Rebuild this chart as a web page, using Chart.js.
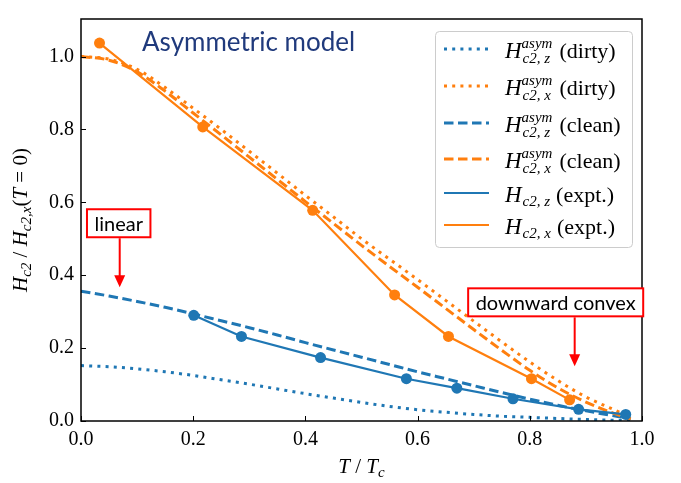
<!DOCTYPE html>
<html>
<head>
<meta charset="utf-8">
<script src="https://cdn.jsdelivr.net/npm/chart.js@4.4.1/dist/chart.umd.min.js"></script>
<style>
  html, body { margin: 0; padding: 0; background: #fff; }
</style>
</head>
<body>
<canvas id="hc2" width="681" height="483"></canvas>
<script>
// reduced temperature grid for the model curves
const TEMP = [0, 0.05, 0.1, 0.15, 0.2, 0.25, 0.3, 0.35, 0.4, 0.45, 0.5,
  0.55, 0.6, 0.65, 0.7, 0.75, 0.8, 0.85, 0.9, 0.95, 0.98];

const HZ_DIRTY = [0.152, 0.149, 0.143, 0.135, 0.125, 0.113, 0.101, 0.088, 0.075, 0.063, 0.051,
  0.040, 0.031, 0.024, 0.018, 0.013, 0.010, 0.007, 0.004, 0.002, 0.001];
const HX_DIRTY = [1.000, 0.993, 0.965, 0.915, 0.858, 0.800, 0.740, 0.680, 0.619, 0.560, 0.500,
  0.444, 0.388, 0.331, 0.274, 0.217, 0.162, 0.111, 0.066, 0.031, 0.010];
const HX_CLEAN = [1.000, 0.990, 0.958, 0.905, 0.845, 0.785, 0.724, 0.663, 0.602, 0.542, 0.482,
  0.424, 0.367, 0.309, 0.251, 0.194, 0.139, 0.091, 0.052, 0.021, 0.006];
const HZ_CLEAN = [0.356, 0.343, 0.328, 0.312, 0.294, 0.275, 0.256, 0.236, 0.215, 0.195, 0.175,
  0.155, 0.135, 0.116, 0.097, 0.078, 0.060, 0.043, 0.028, 0.014, 0.006];

// measured points
const EXPT_Z_T = [0.201, 0.286, 0.427, 0.580, 0.670, 0.770, 0.887, 0.971];
const EXPT_Z_H = [0.290, 0.232, 0.174, 0.116, 0.090, 0.061, 0.032, 0.018];
const EXPT_X_T = [0.033, 0.217, 0.413, 0.559, 0.655, 0.803, 0.871];
const EXPT_X_H = [1.037, 0.807, 0.578, 0.346, 0.232, 0.116, 0.058];

const X_TICKS = [0, 0.2, 0.4, 0.6, 0.8, 1.0];
const Y_TICKS = [0, 0.2, 0.4, 0.6, 0.8, 1.0];

const BLUE = "#1f77b4";
const ORANGE = "#ff7f0e";
const SERIF = '"Liberation Serif", "Times New Roman", serif';
const SANS = 'Lato, "Open Sans", sans-serif';

const DOTTED = [3, 5.2];
const DASHED = [9.5, 4.5];

const pts = (xs, ys) => xs.map((x, i) => ({ x: x, y: ys[i] }));

// legend rows, drawn by hand because of the sub/superscripts
const LEGEND = [
  { color: BLUE, dash: DOTTED, width: 3, sub: "c2, z", sup: "asym", tail: "(dirty)" },
  { color: ORANGE, dash: DOTTED, width: 3, sub: "c2, x", sup: "asym", tail: "(dirty)" },
  { color: BLUE, dash: DASHED, width: 3, sub: "c2, z", sup: "asym", tail: "(clean)" },
  { color: ORANGE, dash: DASHED, width: 3, sub: "c2, x", sup: "asym", tail: "(clean)" },
  { color: BLUE, dash: [], width: 2.2, sub: "c2, z", sup: null, tail: "(expt.)" },
  { color: ORANGE, dash: [], width: 2.2, sub: "c2, x", sup: null, tail: "(expt.)" },
];

// red call-outs, anchored to the arrow tip in data units
const NOTES = [
  { text: "linear", t: 0.069, h: 0.367, shift: -1 },
  { text: "downward convex", t: 0.88, h: 0.15, shift: -19 },
];

function drawParts(ctx, parts, x, y) {
  // parts: [text, font, baseline offset]
  let cx = x;
  parts.forEach(p => {
    ctx.font = p[1];
    ctx.fillText(p[0], cx, y + (p[2] || 0));
    cx += ctx.measureText(p[0]).width;
  });
  return cx;
}

function partsWidth(ctx, parts) {
  return parts.reduce((w, p) => {
    ctx.font = p[1];
    return w + ctx.measureText(p[0]).width;
  }, 0);
}

function drawLegend(ctx, a) {
  const bx = a.right - 207, by = a.top + 12, bw = 197, bh = 216;
  ctx.save();
  ctx.beginPath();
  ctx.roundRect(bx + 0.5, by + 0.5, bw, bh, 4);
  ctx.fillStyle = "rgba(255,255,255,0.85)";
  ctx.fill();
  ctx.strokeStyle = "#cccccc";
  ctx.lineWidth = 1;
  ctx.stroke();

  const rows = [by + 18, by + 55, by + 92, by + 128, by + 162, by + 194];
  LEGEND.forEach((e, i) => {
    const y = rows[i];
    ctx.beginPath();
    ctx.setLineDash(e.dash);
    ctx.strokeStyle = e.color;
    ctx.lineWidth = e.width;
    ctx.moveTo(bx + 9, y);
    ctx.lineTo(bx + 54, y);
    ctx.stroke();
    ctx.setLineDash([]);

    ctx.fillStyle = "#000";
    ctx.textAlign = "left";
    ctx.textBaseline = "alphabetic";
    let x = drawParts(ctx, [["H", "italic 23px " + SERIF]], bx + 70, y + 9);
    ctx.font = "italic 15px " + SERIF;
    const wSub = ctx.measureText(e.sub).width;
    if (e.sup) {
      const wSup = ctx.measureText(e.sup).width;
      ctx.fillText(e.sup, x, y - 1);
      ctx.fillText(e.sub, x + 1, y + 14);
      x += Math.max(wSup, wSub) + 7;
    } else {
      ctx.fillText(e.sub, x + 1, y + 13);
      x += wSub + 7;
    }
    ctx.font = "22px " + SERIF;
    ctx.fillText(e.tail, x, y + 9);
  });
  ctx.restore();
}

function drawNotes(ctx, sx, sy) {
  ctx.save();
  ctx.font = "20px " + SANS;
  NOTES.forEach(n => {
    const tx = sx.getPixelForValue(n.t);
    const ty = sy.getPixelForValue(n.h);
    const w = ctx.measureText(n.text).width + 15;
    const h = 28;
    const cx = tx + n.shift;
    const top = ty - 50 - h;

    ctx.fillStyle = "#fff";
    ctx.fillRect(cx - w / 2, top, w, h);
    ctx.strokeStyle = "#ff0000";
    ctx.lineWidth = 2;
    ctx.strokeRect(cx - w / 2, top, w, h);
    ctx.fillStyle = "#000";
    ctx.textAlign = "center";
    ctx.textBaseline = "middle";
    ctx.fillText(n.text, cx, top + h / 2 + 1);

    // arrow
    ctx.beginPath();
    ctx.moveTo(tx, top + h + 1);
    ctx.lineTo(tx, ty - 10);
    ctx.stroke();
    ctx.beginPath();
    ctx.moveTo(tx - 5.5, ty - 12);
    ctx.lineTo(tx + 5.5, ty - 12);
    ctx.lineTo(tx, ty);
    ctx.closePath();
    ctx.fillStyle = "#ff0000";
    ctx.fill();
  });
  ctx.restore();
}

const decor = {
  id: "decor",
  afterDatasetsDraw(chart) {
    const { ctx, chartArea: a, scales } = chart;
    const sx = scales.x, sy = scales.y;
    ctx.save();

    // inward ticks
    ctx.strokeStyle = "#000";
    ctx.lineWidth = 1;
    ctx.beginPath();
    X_TICKS.forEach(v => {
      const p = Math.round(sx.getPixelForValue(v)) + 0.5;
      ctx.moveTo(p, a.bottom);
      ctx.lineTo(p, a.bottom - 5);
    });
    Y_TICKS.forEach(v => {
      const p = Math.round(sy.getPixelForValue(v)) + 0.5;
      ctx.moveTo(a.left, p);
      ctx.lineTo(a.left + 5, p);
    });
    ctx.stroke();

    // frame
    ctx.lineWidth = 1.5;
    ctx.strokeRect(a.left, a.top, a.right - a.left, a.bottom - a.top);

    // panel title
    ctx.fillStyle = "#203a7c";
    ctx.font = "26px " + SANS;
    ctx.textAlign = "left";
    ctx.textBaseline = "alphabetic";
    ctx.fillText("Asymmetric model", a.left + 61, a.top + 32);

    // axis titles
    ctx.fillStyle = "#000";
    const xParts = [
      ["T", "italic 21px " + SERIF],
      [" / ", "21px " + SERIF],
      ["T", "italic 21px " + SERIF],
      ["c", "italic 15px " + SERIF, 4],
    ];
    const xw = partsWidth(ctx, xParts);
    drawParts(ctx, xParts, (a.left + a.right) / 2 - xw / 2, a.bottom + 52);

    const yParts = [
      ["H", "italic 21px " + SERIF],
      ["c2", "italic 15px " + SERIF, 4],
      [" / ", "21px " + SERIF],
      ["H", "italic 21px " + SERIF],
      ["c2,x", "italic 15px " + SERIF, 4],
      ["(", "21px " + SERIF],
      ["T", "italic 21px " + SERIF],
      [" = 0)", "21px " + SERIF],
    ];
    const yw = partsWidth(ctx, yParts);
    ctx.save();
    ctx.translate(27, (a.top + a.bottom) / 2);
    ctx.rotate(-Math.PI / 2);
    drawParts(ctx, yParts, -yw / 2, 0);
    ctx.restore();

    drawNotes(ctx, sx, sy);
    drawLegend(ctx, a);
    ctx.restore();
  },
};

const theory = (label, data, color, dash, width) => ({
  label: label,
  data: data,
  borderColor: color,
  borderDash: dash,
  borderWidth: width,
  borderCapStyle: "butt",
  pointRadius: 0,
  fill: false,
  cubicInterpolationMode: "monotone",
});

const expt = (label, data, color) => ({
  label: label,
  data: data,
  borderColor: color,
  backgroundColor: color,
  borderWidth: 2.2,
  pointRadius: 5.5,
  pointBorderWidth: 0,
  pointBackgroundColor: color,
  fill: false,
  tension: 0,
});

new Chart(document.getElementById("hc2").getContext("2d"), {
  type: "line",
  data: {
    datasets: [
      expt("Hc2,x (expt.)", pts(EXPT_X_T, EXPT_X_H), ORANGE),
      expt("Hc2,z (expt.)", pts(EXPT_Z_T, EXPT_Z_H), BLUE),
      theory("Hc2,x asym (clean)", pts(TEMP, HX_CLEAN), ORANGE, DASHED, 3),
      theory("Hc2,z asym (clean)", pts(TEMP, HZ_CLEAN), BLUE, DASHED, 3),
      theory("Hc2,x asym (dirty)", pts(TEMP, HX_DIRTY), ORANGE, DOTTED, 3),
      theory("Hc2,z asym (dirty)", pts(TEMP, HZ_DIRTY), BLUE, DOTTED, 3),
    ],
  },
  options: {
    responsive: false,
    animation: false,
    layout: { padding: { top: 3, right: 39, left: 0, bottom: 0 } },
    plugins: {
      legend: { display: false },
      tooltip: { enabled: false },
    },
    scales: {
      x: {
        type: "linear",
        min: 0,
        max: 1,
        afterBuildTicks: s => { s.ticks = X_TICKS.map(v => ({ value: v })); },
        afterFit: s => { s.height = 62; },
        grid: { display: false, drawTicks: false },
        border: { display: false },
        ticks: {
          color: "#000",
          padding: 7,
          maxRotation: 0,
          font: { family: SERIF, size: 20 },
          callback: v => v.toFixed(1),
        },
      },
      y: {
        type: "linear",
        min: 0,
        max: 1.103,
        afterBuildTicks: s => { s.ticks = Y_TICKS.map(v => ({ value: v })); },
        afterFit: s => { s.width = 81; },
        grid: { display: false, drawTicks: false },
        border: { display: false },
        ticks: {
          color: "#000",
          padding: 7,
          font: { family: SERIF, size: 20 },
          callback: v => v.toFixed(1),
        },
      },
    },
  },
  plugins: [decor],
});
</script>
</body>
</html>
